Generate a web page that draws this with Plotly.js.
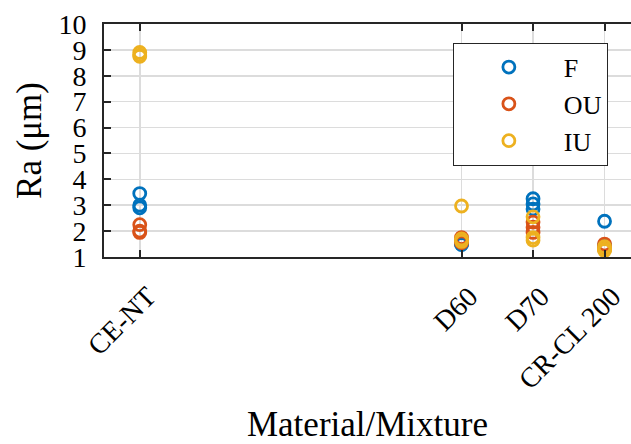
<!DOCTYPE html>
<html>
<head>
<meta charset="utf-8">
<script src="https://cdn.plot.ly/plotly-3.0.1.min.js"></script>
<style>html,body{margin:0;padding:0;background:#fff;overflow:hidden;}#chart{width:631px;height:444px;}</style>
</head>
<body>
<div id="chart"></div>
<script>
// Category tick labels and their positions on the numeric axis
const categories = ["CE-NT", "D60", "D70", "CR-CL 200"];
const categoryPos = [1, 5.5, 6.5, 7.5];

// Ra values (µm), three samples per material for each series
const F_values  = [[3.45, 3.0, 2.9], [1.5, 1.55, 1.48], [3.25, 3.05, 2.85], [2.38, 1.45, 1.4]];
const OU_values = [[2.25, 2.0, 1.95], [1.75, 1.6, 1.55], [2.35, 2.15, 1.95], [1.5, 1.35, 1.3]];
const IU_values = [[8.9, 8.75, 8.8], [2.97, 1.7, 1.6], [2.55, 1.75, 1.65], [1.4, 1.3, 1.25]];

const seriesNames = ["F", "OU", "IU"];
const seriesColors = ["#0072BD", "#D95319", "#EDB120"];

function flatten(vals) {
  const xs = [], ys = [];
  vals.forEach((arr, i) => arr.forEach(v => { xs.push(categoryPos[i]); ys.push(v); }));
  return {xs, ys};
}

const allSeries = [F_values, OU_values, IU_values];
const traces = allSeries.map((vals, k) => {
  const f = flatten(vals);
  return {
    type: "scatter", mode: "markers", name: seriesNames[k],
    x: f.xs, y: f.ys,
    marker: {symbol: "circle-open", size: 12, color: seriesColors[k], line: {width: 2.8, color: seriesColors[k]}}
  };
});

const fontFam = "Liberation Serif, Times New Roman, serif";
const layout = {
  width: 631, height: 444,
  margin: {l: 104, r: 0, t: 24, b: 187},
  paper_bgcolor: "#fff", plot_bgcolor: "#fff",
  font: {family: fontFam, color: "#000", size: 28},
  showlegend: true,
  legend: {
    x: 0.662, y: 0.92, xanchor: "left", yanchor: "top",
    bgcolor: "#fff", bordercolor: "#262626", borderwidth: 1,
    font: {family: fontFam, size: 26, color: "#000"},
    itemwidth: 100, tracegroupgap: 0
  },
  xaxis: {
    range: [0.5, 7.87],
    tickmode: "array", tickvals: categoryPos, ticktext: categories,
    tickangle: -45,
    ticks: "inside", ticklen: 7, tickwidth: 2, tickcolor: "#262626",
    showline: true, linecolor: "#262626", linewidth: 2, mirror: "ticks",
    showgrid: true, gridcolor: "#dcdcdc", gridwidth: 1.5,
    zeroline: false,
    ticklabelstandoff: 10, ticklabelshift: 8,
    tickfont: {family: fontFam, size: 28, color: "#000"},
    title: {text: "Material/Mixture", font: {family: fontFam, size: 35, color: "#000"}, standoff: 23}
  },
  yaxis: {
    range: [1, 10],
    tickmode: "array", tickvals: [1,2,3,4,5,6,7,8,9,10],
    ticks: "inside", ticklen: 7, tickwidth: 2, tickcolor: "#262626",
    showline: true, linecolor: "#262626", linewidth: 2, mirror: false,
    showgrid: true, gridcolor: "#dcdcdc", gridwidth: 1.5,
    zeroline: false,
    ticklabelstandoff: 10,
    tickfont: {family: fontFam, size: 28, color: "#000"},
    title: {text: "Ra (μm)", font: {family: fontFam, size: 35, color: "#000"}, standoff: 6}
  }
};

Plotly.newPlot("chart", traces, layout, {displayModeBar: false, staticPlot: true});
</script>
</body>
</html>
